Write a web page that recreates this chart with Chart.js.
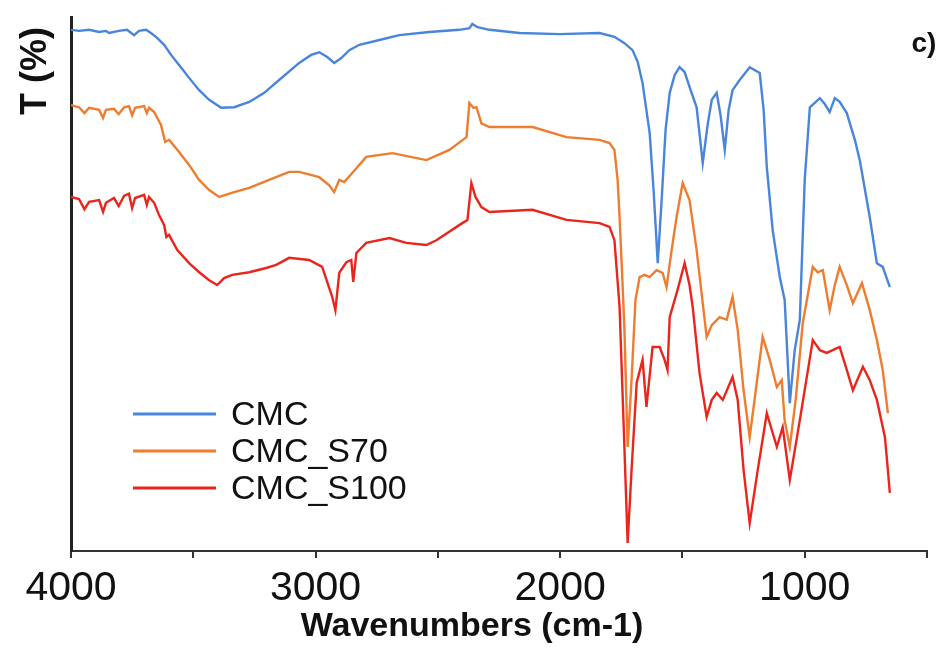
<!DOCTYPE html>
<html>
<head>
<meta charset="utf-8">
<script src="https://cdn.jsdelivr.net/npm/chart.js@4.4.1/dist/chart.umd.min.js"></script>
<style>
  html, body { margin: 0; padding: 0; background: #fff; }
</style>
</head>
<body>
<canvas id="myChart" width="944" height="648"></canvas>
<script>
// FTIR spectra - wavenumber (cm-1) vs transmittance (arbitrary %, curves offset)

var seriesNames = ['CMC', 'CMC_S70', 'CMC_S100'];
var seriesColors = ['#4a85dc', '#ee7d2f', '#e8261c'];
var xLabels = [4000, 3000, 2000, 1000];

// CMC
var cmcWave = [4000, 3967, 3926, 3885, 3857, 3844, 3804, 3771, 3742, 3722, 3693, 3673, 3648, 3619, 3591, 3558, 3517, 3476, 3435, 3386,
  3333, 3271, 3210, 3149, 3067, 3018, 2985, 2952, 2924, 2895, 2862, 2821, 2739, 2658, 2535, 2412, 2371, 2359, 2338, 2289,
  2166, 2003, 1839, 1778, 1737, 1704, 1683, 1663, 1634, 1618, 1601, 1585, 1569, 1552, 1532, 1512, 1491, 1471, 1442, 1417,
  1397, 1380, 1360, 1344, 1327, 1311, 1295, 1266, 1225, 1184, 1168, 1155, 1131, 1102, 1082, 1061, 1041, 1020, 1000, 979,
  938, 918, 898, 877, 857, 828, 795, 775, 734, 705, 681, 652];
var cmcT = [97.6, 97.4, 97.6, 97.2, 97.4, 97.0, 97.4, 97.6, 96.6, 97.4, 97.6, 97.0, 96.1, 94.8, 92.9, 91.0, 88.6, 86.3, 84.5, 83.0,
  83.1, 84.1, 85.8, 88.2, 91.4, 92.9, 93.4, 92.5, 91.4, 92.3, 93.8, 94.8, 95.7, 96.6, 97.2, 97.6, 97.9, 98.7, 98.1, 97.6,
  97.0, 96.8, 97.0, 96.3, 95.1, 93.8, 91.6, 87.6, 78.3, 67.6, 53.9, 65.7, 78.8, 85.8, 89.1, 90.6, 89.7, 86.9, 83.1, 72.7,
  79.8, 84.5, 85.8, 81.6, 75.1, 82.6, 86.3, 88.2, 90.6, 89.5, 82.6, 71.9, 60.1, 51.3, 47.0, 27.7, 37.6, 43.3, 69.5, 83.1,
  84.8, 83.7, 82.2, 84.8, 84.1, 82.0, 77.0, 73.2, 62.5, 53.9, 53.2, 49.4];

// CMC_S70
var s70Wave = [4000, 3967, 3945, 3926, 3885, 3869, 3857, 3824, 3805, 3783, 3763, 3750, 3738, 3701, 3690, 3681, 3660, 3632, 3615, 3599,
  3558, 3517, 3476, 3435, 3394, 3333, 3271, 3190, 3108, 3067, 2985, 2944, 2924, 2903, 2883, 2850, 2793, 2686, 2547, 2453,
  2383, 2371, 2355, 2342, 2322, 2289, 2113, 1974, 1839, 1798, 1778, 1765, 1757, 1745, 1737, 1724, 1708, 1692, 1675, 1655,
  1634, 1606, 1581, 1565, 1544, 1524, 1499, 1471, 1442, 1417, 1401, 1380, 1348, 1319, 1295, 1274, 1250, 1225, 1200, 1172,
  1143, 1114, 1094, 1082, 1061, 1037, 1008, 967, 947, 926, 898, 877, 857, 828, 803, 766, 734, 705, 681, 660];
var s70T = [83.5, 83.1, 82.0, 83.0, 82.6, 81.1, 82.6, 82.8, 81.8, 83.1, 83.3, 81.6, 83.0, 83.3, 82.0, 83.0, 82.2, 79.8, 76.6, 77.0,
  74.7, 72.3, 69.5, 67.6, 66.3, 67.2, 68.0, 69.5, 71.0, 71.0, 70.0, 68.5, 67.2, 69.5, 69.1, 70.8, 73.8, 74.5, 73.2, 75.1,
  77.5, 83.9, 83.0, 83.1, 80.1, 79.4, 79.4, 77.5, 77.0, 76.4, 75.1, 69.5, 62.5, 50.2, 41.4, 19.5, 32.0, 47.0, 51.3, 51.7,
  51.3, 52.6, 52.1, 49.4, 56.4, 62.5, 68.9, 65.7, 56.4, 46.4, 40.1, 42.3, 43.8, 43.3, 47.6, 41.4, 30.1, 21.3, 30.1, 40.1,
  35.8, 30.7, 32.0, 24.5, 19.5, 28.3, 42.7, 53.2, 52.2, 52.6, 45.1, 49.8, 53.2, 49.8, 46.4, 50.2, 45.1, 39.5, 33.9, 25.8];

// CMC_S100
var s100Wave = [4000, 3967, 3945, 3926, 3885, 3869, 3857, 3824, 3805, 3783, 3763, 3750, 3738, 3701, 3690, 3681, 3660, 3640, 3619, 3610,
  3599, 3566, 3517, 3476, 3435, 3402, 3374, 3341, 3271, 3202, 3161, 3108, 3026, 2973, 2932, 2919, 2903, 2874, 2854, 2846,
  2833, 2793, 2698, 2629, 2547, 2506, 2400, 2379, 2363, 2346, 2322, 2289, 2113, 1974, 1839, 1798, 1778, 1757, 1741, 1724,
  1708, 1687, 1663, 1647, 1622, 1593, 1573, 1561, 1552, 1520, 1491, 1471, 1458, 1430, 1401, 1380, 1360, 1335, 1295, 1274,
  1250, 1225, 1192, 1155, 1135, 1114, 1090, 1061, 1020, 967, 938, 910, 857, 828, 803, 762, 734, 705, 672, 660, 652];
var s100T = [66.3, 65.9, 64.0, 65.4, 65.7, 63.5, 65.2, 66.1, 64.6, 66.5, 66.9, 64.2, 66.1, 66.7, 64.8, 66.3, 65.2, 62.9, 61.0, 58.8,
  59.2, 56.4, 53.9, 52.2, 50.7, 49.8, 51.1, 51.7, 52.2, 53.0, 53.6, 54.9, 54.5, 53.2, 47.6, 45.1, 52.1, 54.1, 54.5, 50.4,
  55.8, 57.7, 58.6, 57.7, 57.3, 58.2, 61.4, 62.0, 68.9, 66.3, 64.4, 63.5, 63.9, 62.0, 61.4, 60.7, 58.2, 45.7, 24.5, 1.5,
  15.2, 31.5, 35.8, 27.0, 38.2, 38.2, 35.8, 33.9, 43.8, 48.9, 53.9, 49.8, 45.7, 33.3, 25.1, 28.3, 29.6, 28.3, 32.6, 28.3,
  15.2, 5.2, 15.2, 25.8, 22.7, 19.5, 23.2, 13.3, 24.5, 39.5, 37.6, 37.1, 38.2, 33.9, 30.1, 34.5, 32.0, 28.3, 21.3, 15.2, 10.9];

var waves = [cmcWave, s70Wave, s100Wave];
var trans = [cmcT, s70T, s100T];

var FONT = "'Liberation Sans', Arial, sans-serif";

var datasets = seriesNames.map(function (name, i) {
  return {
    label: name,
    data: waves[i].map(function (w, j) { return { x: w, y: trans[i][j] }; }),
    borderColor: seriesColors[i],
    backgroundColor: seriesColors[i],
    borderWidth: 2.4,
    pointRadius: 0,
    tension: 0,
    fill: false
  };
});

// legend, axis titles and "c)" drawn by hand
var extras = {
  id: 'extras',
  afterDraw: function (chart) {
    var c = chart.ctx;
    c.save();
    c.fillStyle = '#111';
    c.textBaseline = 'middle';

    // y title
    c.save();
    c.translate(36, 71);
    c.rotate(-Math.PI / 2);
    c.textAlign = 'center';
    c.font = 'bold 36px ' + FONT;
    c.fillText('T (%)', 0, 0);
    c.restore();

    // x title (sits left of the plot centre in the original)
    c.textAlign = 'center';
    c.font = 'bold 34px ' + FONT;
    c.fillText('Wavenumbers (cm-1)', 472, 627);

    c.font = 'bold 28px ' + FONT;
    c.fillText('c)', 924, 44);

    // legend
    c.textAlign = 'left';
    c.font = '34px ' + FONT;
    chart.data.datasets.forEach(function (ds, i) {
      var y = 414 + i * 37;
      c.strokeStyle = ds.borderColor;
      c.lineWidth = 3;
      c.beginPath();
      c.moveTo(133, y);
      c.lineTo(216, y);
      c.stroke();
      c.fillStyle = '#111';
      c.fillText(ds.label, 231, y + 2);
    });
    c.restore();
  }
};

var ctx = document.getElementById('myChart');
var myChart = new Chart(ctx, {
  type: 'line',
  data: { datasets: datasets },
  options: {
    responsive: false,
    animation: false,
    layout: { padding: { left: 63, right: 17, top: 17, bottom: 0 } },
    plugins: {
      legend: { display: false },
      tooltip: { enabled: false }
    },
    scales: {
      x: {
        type: 'linear',
        reverse: true,
        min: 500,
        max: 4000,
        afterFit: function (s) { s.height = 97; },
        ticks: {
          stepSize: 500,
          autoSkip: false,
          maxRotation: 0,
          padding: 6,
          color: '#111',
          font: { family: FONT, size: 41 },
          callback: function (v) { return xLabels.indexOf(v) >= 0 ? String(v) : ''; }
        },
        grid: { drawOnChartArea: false, drawTicks: true, tickLength: 7, color: '#333', lineWidth: 2 },
        border: { display: true, color: '#333', width: 2 }
      },
      y: {
        min: 0,
        max: 100,
        ticks: { display: false },
        grid: { display: false },
        border: { display: true, color: '#222', width: 3 }
      }
    }
  },
  plugins: [extras]
});
</script>
</body>
</html>
